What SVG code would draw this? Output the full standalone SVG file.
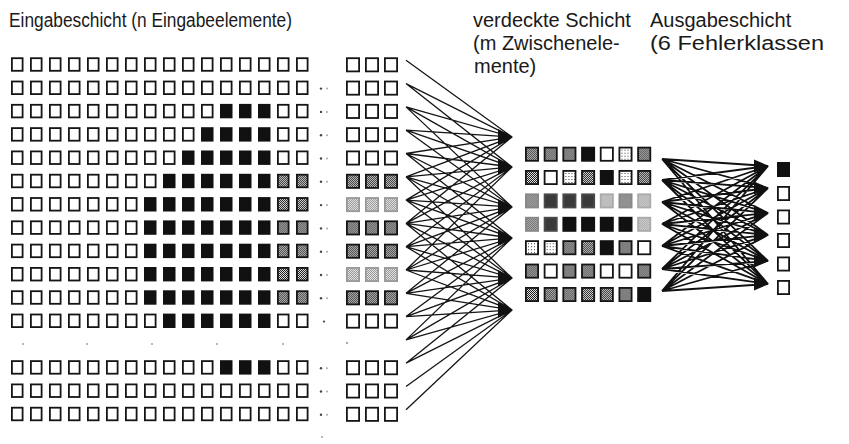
<svg xmlns="http://www.w3.org/2000/svg" width="849" height="444" viewBox="0 0 849 444">
<style>
text{font-family:"Liberation Sans",Arial,sans-serif;font-size:20px;fill:#1a1a1a}
.l{font-size:19.5px}
.c1{fill:none;stroke:#151515;stroke-width:1.3}
.c2{fill:none;stroke:#111;stroke-width:1.8}
.ah{fill:#111}
.d1{fill:#444}
.d2{fill:#aaa}
</style>
<defs>
<pattern id="pS" width="2" height="2" patternUnits="userSpaceOnUse"><rect width="2" height="2" fill="#e0e0e0"/><rect width="1" height="1" fill="#1e1e1e"/><rect x="1" y="1" width="1" height="1" fill="#1e1e1e"/></pattern>
<pattern id="pG" width="2" height="2" patternUnits="userSpaceOnUse"><rect width="2" height="2" fill="#e2e2e2"/><rect width="1" height="1" fill="#999"/><rect x="1" y="1" width="1" height="1" fill="#999"/></pattern>
<pattern id="pM" width="2" height="2" patternUnits="userSpaceOnUse"><rect width="2" height="2" fill="#bbb"/><rect width="1" height="1" fill="#666"/><rect x="1" y="1" width="1" height="1" fill="#666"/></pattern>
<pattern id="pL" width="3" height="3" patternUnits="userSpaceOnUse"><rect width="3" height="3" fill="#fff"/><rect width="1" height="1" fill="#444"/></pattern>
<rect id="iw" x="0.9" y="0.9" width="10.7" height="12.6" fill="#fff" stroke="#151515" stroke-width="1.8"/>
<rect id="ib" x="0.9" y="0.9" width="10.7" height="12.6" fill="#111" stroke="#111" stroke-width="1.8"/>
<rect id="is" x="0.9" y="0.9" width="10.7" height="12.6" fill="url(#pS)" stroke="#151515" stroke-width="1.8"/>
<rect id="rw" x="0.9" y="0.9" width="12.2" height="13.2" fill="#fff" stroke="#151515" stroke-width="1.8"/>
<rect id="rs" x="0.9" y="0.9" width="12.2" height="13.2" fill="url(#pS)" stroke="#151515" stroke-width="1.8"/>
<rect id="rg" x="0.9" y="0.9" width="12.2" height="13.2" fill="url(#pG)" stroke="#999" stroke-width="1.8"/>
<rect id="hw" x="0.9" y="0.9" width="12.2" height="13.2" fill="#fff" stroke="#151515" stroke-width="1.8"/>
<rect id="hb" x="0.9" y="0.9" width="12.2" height="13.2" fill="#111" stroke="#111" stroke-width="1.8"/>
<rect id="hs" x="0.9" y="0.9" width="12.2" height="13.2" fill="url(#pS)" stroke="#151515" stroke-width="1.8"/>
<rect id="hl" x="0.9" y="0.9" width="12.2" height="13.2" fill="url(#pL)" stroke="#151515" stroke-width="1.8"/>
<rect id="hd" x="0.9" y="0.9" width="12.2" height="13.2" fill="#3a3a3a" stroke="#4a4a4a" stroke-width="1.8"/>
<rect id="hm" x="0.9" y="0.9" width="12.2" height="13.2" fill="url(#pM)" stroke="#888" stroke-width="1.8"/>
<rect id="hg" x="0.9" y="0.9" width="12.2" height="13.2" fill="url(#pG)" stroke="#aaa" stroke-width="1.8"/>
<rect id="ow" x="0.9" y="0.9" width="11.2" height="13.2" fill="#fff" stroke="#151515" stroke-width="1.8"/>
<rect id="ob" x="0.9" y="0.9" width="11.2" height="13.2" fill="#111" stroke="#111" stroke-width="1.8"/>
<g id="dd"><circle cx="321" cy="8" r="1.2" class="d1"/><circle cx="327" cy="8" r="1" class="d2"/></g>
<g id="w16"><use href="#iw" x="11"/><use href="#iw" x="30"/><use href="#iw" x="49"/><use href="#iw" x="68"/><use href="#iw" x="87"/><use href="#iw" x="106"/><use href="#iw" x="125"/><use href="#iw" x="144"/><use href="#iw" x="163"/><use href="#iw" x="182"/><use href="#iw" x="201"/><use href="#iw" x="220"/><use href="#iw" x="239"/><use href="#iw" x="258"/><use href="#iw" x="277"/><use href="#iw" x="296"/></g>
<g id="w7"><use href="#iw" x="11"/><use href="#iw" x="30"/><use href="#iw" x="49"/><use href="#iw" x="68"/><use href="#iw" x="87"/><use href="#iw" x="106"/><use href="#iw" x="125"/></g>
<g id="rW"><use href="#rw" x="346"/><use href="#rw" x="365"/><use href="#rw" x="384"/></g>
<g id="rS"><use href="#rs" x="346"/><use href="#rs" x="365"/><use href="#rs" x="384"/></g>
<g id="rG"><use href="#rg" x="346"/><use href="#rg" x="365"/><use href="#rg" x="384"/></g>
</defs>
<rect width="849" height="444" fill="#fff"/>

<g id="labels">
<text class="l" x="9" y="27" textLength="283" lengthAdjust="spacingAndGlyphs">Eingabeschicht (n Eingabeelemente)</text>
<text x="473" y="27">verdeckte Schicht</text>
<text x="473" y="50">(m Zwischenele-</text>
<text x="474" y="73">mente)</text>
<text x="650" y="27">Ausgabeschicht</text>
<text x="650" y="50" textLength="174" lengthAdjust="spacingAndGlyphs">(6 Fehlerklassen</text>
</g>

<g id="connectors">
<path class="c1" d="M406 60.3L512 137
M406 83.6L512 137M406 83.6L512 167
M406 106.9L512 137M406 106.9L512 167M406 106.9L512 207
M406 130.2L512 137M406 130.2L512 167M406 130.2L512 207
M406 153.5L512 137M406 153.5L512 167M406 153.5L512 207M406 153.5L512 238
M406 176.8L512 137M406 176.8L512 167M406 176.8L512 207M406 176.8L512 238M406 176.8L512 278
M406 200.1L512 137M406 200.1L512 167M406 200.1L512 207M406 200.1L512 238M406 200.1L512 278
M406 223.4L512 137M406 223.4L512 167M406 223.4L512 207M406 223.4L512 238M406 223.4L512 278M406 223.4L512 310
M406 246.7L512 167M406 246.7L512 207M406 246.7L512 238M406 246.7L512 278M406 246.7L512 310
M406 270L512 167M406 270L512 207M406 270L512 238M406 270L512 278M406 270L512 310
M406 293.3L512 207M406 293.3L512 238M406 293.3L512 278M406 293.3L512 310
M406 316.6L512 238M406 316.6L512 278M406 316.6L512 310
M406 339.9L512 238M406 339.9L512 278M406 339.9L512 310
M406 363.2L512 278M406 363.2L512 310
M406 386.5L512 310
M406 409.8L512 310"/>
<path class="ah" d="M498 129L513 137L498 145Z M498 159L513 167L498 175Z M498 199L513 207L498 215Z M498 230L513 238L498 246Z M498 270L513 278L498 286Z M498 302L513 310L498 318Z"/>
<path class="c2" d="M662 159L768 166M662 159L768 188M662 159L768 213M662 159L768 235M662 159L768 261M662 159L768 284
M662 180L768 166M662 180L768 188M662 180L768 213M662 180L768 235M662 180L768 261M662 180L768 284
M662 202L768 166M662 202L768 188M662 202L768 213M662 202L768 235M662 202L768 261M662 202L768 284
M662 224L768 166M662 224L768 188M662 224L768 213M662 224L768 235M662 224L768 261M662 224L768 284
M662 246L768 166M662 246L768 188M662 246L768 213M662 246L768 235M662 246L768 261M662 246L768 284
M662 269L768 166M662 269L768 188M662 269L768 213M662 269L768 235M662 269L768 261M662 269L768 284
M662 291L768 166M662 291L768 188M662 291L768 213M662 291L768 235M662 291L768 261M662 291L768 284"/>
<path class="ah" d="M754 159.5L769 166L754 172.5Z M754 181.5L769 188L754 194.5Z M754 206.5L769 213L754 219.5Z M754 228.5L769 235L754 241.5Z M754 254.5L769 261L754 267.5Z M754 277.5L769 284L754 290.5Z"/>
</g>

<g id="input-layer">
<g id="in-r1" transform="translate(0 57.3)"><use href="#w16"/><use href="#rW"/></g>
<g id="in-r2" transform="translate(0 80.6)"><use href="#w16"/><use href="#rW"/><use href="#dd"/></g>
<g id="in-r3" transform="translate(0 103.9)"><use href="#w7"/><use href="#iw" x="144"/><use href="#iw" x="163"/><use href="#iw" x="182"/><use href="#iw" x="201"/><use href="#ib" x="220"/><use href="#ib" x="239"/><use href="#ib" x="258"/><use href="#iw" x="277"/><use href="#iw" x="296"/><use href="#rW"/><use href="#dd"/></g>
<g id="in-r4" transform="translate(0 127.2)"><use href="#w7"/><use href="#iw" x="144"/><use href="#iw" x="163"/><use href="#iw" x="182"/><use href="#ib" x="201"/><use href="#ib" x="220"/><use href="#ib" x="239"/><use href="#ib" x="258"/><use href="#iw" x="277"/><use href="#iw" x="296"/><use href="#rW"/><use href="#dd"/></g>
<g id="in-r5" transform="translate(0 150.5)"><use href="#w7"/><use href="#iw" x="144"/><use href="#iw" x="163"/><use href="#ib" x="182"/><use href="#ib" x="201"/><use href="#ib" x="220"/><use href="#ib" x="239"/><use href="#ib" x="258"/><use href="#iw" x="277"/><use href="#iw" x="296"/><use href="#rW"/><use href="#dd"/></g>
<g id="in-r6" transform="translate(0 173.8)"><use href="#w7"/><use href="#iw" x="144"/><use href="#ib" x="163"/><use href="#ib" x="182"/><use href="#ib" x="201"/><use href="#ib" x="220"/><use href="#ib" x="239"/><use href="#ib" x="258"/><use href="#is" x="277"/><use href="#is" x="296"/><use href="#rS"/><use href="#dd"/></g>
<g id="in-r7" transform="translate(0 197.1)"><use href="#w7"/><use href="#ib" x="144"/><use href="#ib" x="163"/><use href="#ib" x="182"/><use href="#ib" x="201"/><use href="#ib" x="220"/><use href="#ib" x="239"/><use href="#ib" x="258"/><use href="#is" x="277"/><use href="#is" x="296"/><use href="#rG"/><use href="#dd"/></g>
<g id="in-r8" transform="translate(0 220.4)"><use href="#w7"/><use href="#ib" x="144"/><use href="#ib" x="163"/><use href="#ib" x="182"/><use href="#ib" x="201"/><use href="#ib" x="220"/><use href="#ib" x="239"/><use href="#ib" x="258"/><use href="#is" x="277"/><use href="#is" x="296"/><use href="#rS"/><use href="#dd"/></g>
<g id="in-r9" transform="translate(0 243.7)"><use href="#w7"/><use href="#ib" x="144"/><use href="#ib" x="163"/><use href="#ib" x="182"/><use href="#ib" x="201"/><use href="#ib" x="220"/><use href="#ib" x="239"/><use href="#ib" x="258"/><use href="#is" x="277"/><use href="#is" x="296"/><use href="#rS"/><use href="#dd"/></g>
<g id="in-r10" transform="translate(0 267)"><use href="#w7"/><use href="#ib" x="144"/><use href="#ib" x="163"/><use href="#ib" x="182"/><use href="#ib" x="201"/><use href="#ib" x="220"/><use href="#ib" x="239"/><use href="#ib" x="258"/><use href="#is" x="277"/><use href="#is" x="296"/><use href="#rG"/><use href="#dd"/></g>
<g id="in-r11" transform="translate(0 290.3)"><use href="#w7"/><use href="#ib" x="144"/><use href="#ib" x="163"/><use href="#ib" x="182"/><use href="#ib" x="201"/><use href="#ib" x="220"/><use href="#ib" x="239"/><use href="#ib" x="258"/><use href="#is" x="277"/><use href="#is" x="296"/><use href="#rS"/><use href="#dd"/></g>
<g id="in-r12" transform="translate(0 313.6)"><use href="#w7"/><use href="#iw" x="144"/><use href="#ib" x="163"/><use href="#ib" x="182"/><use href="#ib" x="201"/><use href="#ib" x="220"/><use href="#ib" x="239"/><use href="#ib" x="258"/><use href="#iw" x="277"/><use href="#iw" x="296"/><use href="#rW"/><circle cx="324" cy="8" r="1.1" class="d1"/></g>
<g id="in-gap"><circle cx="23" cy="344" r="1.1" class="d2"/><circle cx="87" cy="344" r="1.1" class="d2"/><circle cx="152" cy="344" r="1.1" class="d2"/><circle cx="217" cy="344" r="1.1" class="d2"/><circle cx="283" cy="344" r="1.1" class="d2"/><circle cx="347" cy="343" r="1.2" class="d2"/></g>
<g id="in-r13" transform="translate(0 360.2)"><use href="#w7"/><use href="#iw" x="144"/><use href="#iw" x="163"/><use href="#iw" x="182"/><use href="#iw" x="201"/><use href="#ib" x="220"/><use href="#ib" x="239"/><use href="#ib" x="258"/><use href="#iw" x="277"/><use href="#iw" x="296"/><use href="#rW"/><use href="#dd"/></g>
<g id="in-r14" transform="translate(0 383.5)"><use href="#w16"/><use href="#rW"/><use href="#dd"/></g>
<g id="in-r15" transform="translate(0 406.8)"><use href="#w16"/><use href="#rW"/><use href="#dd"/></g>
<circle cx="322" cy="437" r="1.1" class="d2"/>
</g>

<g id="hidden-layer">
<g id="h-r1" transform="translate(0 146.7)"><use href="#hs" x="525"/><use href="#hs" x="543.7"/><use href="#hs" x="562.4"/><use href="#hb" x="581.1"/><use href="#hw" x="599.8"/><use href="#hl" x="618.5"/><use href="#hs" x="637.2"/></g>
<g id="h-r2" transform="translate(0 170)"><use href="#hs" x="525"/><use href="#hw" x="543.7"/><use href="#hl" x="562.4"/><use href="#hs" x="581.1"/><use href="#hb" x="599.8"/><use href="#hl" x="618.5"/><use href="#hs" x="637.2"/></g>
<g id="h-r3" transform="translate(0 193.4)"><use href="#hm" x="525"/><use href="#hd" x="543.7"/><use href="#hd" x="562.4"/><use href="#hd" x="581.1"/><use href="#hg" x="599.8"/><use href="#hm" x="618.5"/><use href="#hg" x="637.2"/></g>
<g id="h-r4" transform="translate(0 216.8)"><use href="#hm" x="525"/><use href="#hd" x="543.7"/><use href="#hb" x="562.4"/><use href="#hb" x="581.1"/><use href="#hb" x="599.8"/><use href="#hb" x="618.5"/><use href="#hg" x="637.2"/></g>
<g id="h-r5" transform="translate(0 240.2)"><use href="#hl" x="525"/><use href="#hl" x="543.7"/><use href="#hs" x="562.4"/><use href="#hs" x="581.1"/><use href="#hb" x="599.8"/><use href="#hs" x="618.5"/><use href="#hw" x="637.2"/></g>
<g id="h-r6" transform="translate(0 263.6)"><use href="#hs" x="525"/><use href="#hw" x="543.7"/><use href="#hs" x="562.4"/><use href="#hs" x="581.1"/><use href="#hw" x="599.8"/><use href="#hw" x="618.5"/><use href="#hs" x="637.2"/></g>
<g id="h-r7" transform="translate(0 287)"><use href="#hs" x="525"/><use href="#hs" x="543.7"/><use href="#hs" x="562.4"/><use href="#hs" x="581.1"/><use href="#hs" x="599.8"/><use href="#hs" x="618.5"/><use href="#hb" x="637.2"/></g>
</g>

<g id="output-layer">
<g id="out-1"><use href="#ob" x="777" y="162"/></g>
<g id="out-2"><use href="#ow" x="777" y="186"/></g>
<g id="out-3"><use href="#ow" x="777" y="209.5"/></g>
<g id="out-4"><use href="#ow" x="777" y="233"/></g>
<g id="out-5"><use href="#ow" x="777" y="256.5"/></g>
<g id="out-6"><use href="#ow" x="777" y="280"/></g>
</g>
</svg>
